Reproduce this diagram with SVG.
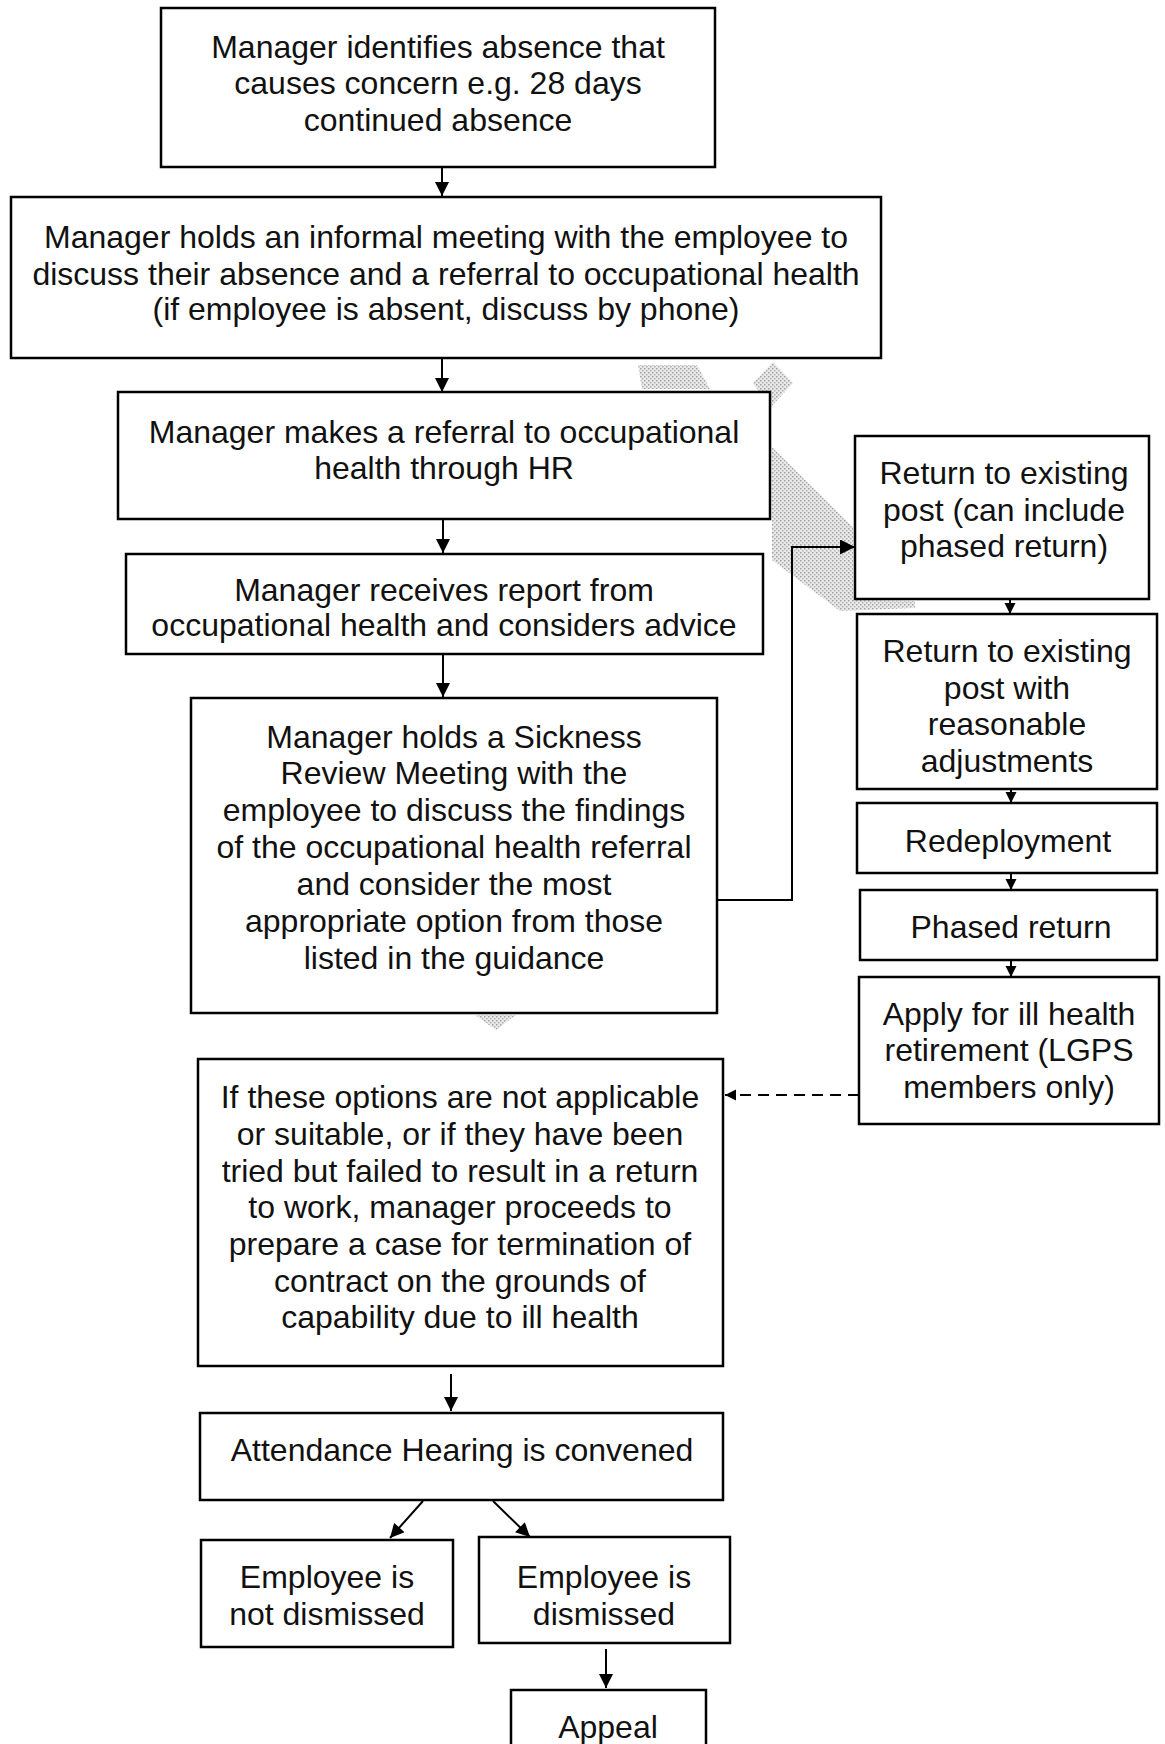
<svg xmlns="http://www.w3.org/2000/svg" width="1165" height="1744" viewBox="0 0 1165 1744">
<defs>
<style>
.box{fill:#fff;stroke:#000;stroke-width:2.5}
.t{font-family:"Liberation Sans",Arial,sans-serif;font-size:32px;fill:#111;text-anchor:middle}
.ln{stroke:#000;stroke-width:2;fill:none}
.dash{stroke:#000;stroke-width:2;fill:none;stroke-dasharray:11 7}
.art{fill:url(#stip)}
</style>
<pattern id="stip" width="4" height="4" patternUnits="userSpaceOnUse">
<rect width="4" height="4" fill="#e4e4e4"/>
<rect x="0" y="0" width="1.5" height="1.5" fill="#8a8a8a"/>
<rect x="2" y="2" width="1.5" height="1.5" fill="#a0a0a0"/>
</pattern>
<marker id="ah" viewBox="0 0 14 14" refX="14" refY="7" markerWidth="15" markerHeight="14" markerUnits="userSpaceOnUse" orient="auto">
<path d="M0,0 L14,7 L0,14 Z" fill="#000"/>
</marker>
<marker id="ahs" viewBox="0 0 12 12" refX="12" refY="6" markerWidth="11" markerHeight="12" markerUnits="userSpaceOnUse" orient="auto">
<path d="M0,0 L12,6 L0,12 Z" fill="#000"/>
</marker>
<marker id="ahb" viewBox="0 0 14 14" refX="14" refY="7" markerWidth="17" markerHeight="15" markerUnits="userSpaceOnUse" orient="auto">
<path d="M0,0 L14,7 L0,14 Z" fill="#000"/>
</marker>
</defs>
<rect width="1165" height="1744" fill="#fff"/>

<g id="artifacts" opacity="0.8">
<polygon class="art" points="638,365 697,365 710,389 642,389"/>
<polygon class="art" points="753,383 773,362 793,383 770,408"/>
<polygon class="art" points="772,447 853,527 853,600 915,601 915,608 840,611 772,560"/>
<polygon class="art" points="475,1015 516,1015 496,1030"/>
</g>

<g id="connectors">
<line class="ln" x1="442" y1="167" x2="442" y2="196" marker-end="url(#ah)"/>
<line class="ln" x1="442" y1="358" x2="442" y2="392" marker-end="url(#ah)"/>
<line class="ln" x1="443" y1="519" x2="443" y2="553" marker-end="url(#ah)"/>
<line class="ln" x1="443" y1="654" x2="443" y2="697" marker-end="url(#ah)"/>
<polyline class="ln" points="717,900 792,900 792,547 855,547" marker-end="url(#ahb)"/>
<line class="ln" x1="1010" y1="599" x2="1010" y2="614" marker-end="url(#ahs)"/>
<line class="ln" x1="1011" y1="789" x2="1011" y2="803" marker-end="url(#ahs)"/>
<line class="ln" x1="1011" y1="873" x2="1011" y2="890" marker-end="url(#ahs)"/>
<line class="ln" x1="1011" y1="960" x2="1011" y2="977" marker-end="url(#ahs)"/>
<line class="dash" x1="859" y1="1095" x2="725" y2="1095" marker-end="url(#ahs)"/>
<line class="ln" x1="451" y1="1374" x2="451" y2="1411" marker-end="url(#ah)"/>
<line class="ln" x1="423" y1="1501" x2="390" y2="1538" marker-end="url(#ah)"/>
<line class="ln" x1="493" y1="1501" x2="530" y2="1537" marker-end="url(#ah)"/>
<line class="ln" x1="606" y1="1649" x2="606" y2="1688" marker-end="url(#ah)"/>
</g>

<g id="n1">
<rect class="box" x="161" y="8" width="554" height="159"/>
<text class="t" x="438" y="58">Manager identifies absence that</text>
<text class="t" x="438" y="94">causes concern e.g. 28 days</text>
<text class="t" x="438" y="131">continued absence</text>
</g>

<g id="n2">
<rect class="box" x="11" y="197" width="870" height="161"/>
<text class="t" x="446" y="248">Manager holds an informal meeting with the employee to</text>
<text class="t" x="446" y="285">discuss their absence and a referral to occupational health</text>
<text class="t" x="446" y="320">(if employee is absent, discuss by phone)</text>
</g>

<g id="n3">
<rect class="box" x="118" y="392" width="652" height="127"/>
<text class="t" x="444" y="443">Manager makes a referral to occupational</text>
<text class="t" x="444" y="479">health through HR</text>
</g>

<g id="n4">
<rect class="box" x="126" y="554" width="637" height="100"/>
<text class="t" x="444" y="601">Manager receives report from</text>
<text class="t" x="444" y="636">occupational health and considers advice</text>
</g>

<g id="n5">
<rect class="box" x="191" y="698" width="526" height="315"/>
<text class="t" x="454" y="748">Manager holds a Sickness</text>
<text class="t" x="454" y="784">Review Meeting with the</text>
<text class="t" x="454" y="821">employee to discuss the findings</text>
<text class="t" x="454" y="858">of the occupational health referral</text>
<text class="t" x="454" y="895">and consider the most</text>
<text class="t" x="454" y="932">appropriate option from those</text>
<text class="t" x="454" y="969">listed in the guidance</text>
</g>

<g id="r1">
<rect class="box" x="855" y="436" width="294" height="163"/>
<text class="t" x="1004" y="484">Return to existing</text>
<text class="t" x="1004" y="521">post (can include</text>
<text class="t" x="1004" y="557">phased return)</text>
</g>

<g id="r2">
<rect class="box" x="857" y="614" width="300" height="175"/>
<text class="t" x="1007" y="662">Return to existing</text>
<text class="t" x="1007" y="699">post with</text>
<text class="t" x="1007" y="735">reasonable</text>
<text class="t" x="1007" y="772">adjustments</text>
</g>

<g id="r3">
<rect class="box" x="857" y="803" width="300" height="70"/>
<text class="t" x="1008" y="852">Redeployment</text>
</g>

<g id="r4">
<rect class="box" x="860" y="890" width="297" height="70"/>
<text class="t" x="1011" y="938">Phased return</text>
</g>

<g id="r5">
<rect class="box" x="859" y="977" width="300" height="147"/>
<text class="t" x="1009" y="1025">Apply for ill health</text>
<text class="t" x="1009" y="1061">retirement (LGPS</text>
<text class="t" x="1009" y="1098">members only)</text>
</g>

<g id="n6">
<rect class="box" x="198" y="1059" width="525" height="307"/>
<text class="t" x="460" y="1108">If these options are not applicable</text>
<text class="t" x="460" y="1145">or suitable, or if they have been</text>
<text class="t" x="460" y="1182">tried but failed to result in a return</text>
<text class="t" x="460" y="1218">to work, manager proceeds to</text>
<text class="t" x="460" y="1255">prepare a case for termination of</text>
<text class="t" x="460" y="1292">contract on the grounds of</text>
<text class="t" x="460" y="1328">capability due to ill health</text>
</g>

<g id="n7">
<rect class="box" x="200" y="1413" width="523" height="87"/>
<text class="t" x="462" y="1461">Attendance Hearing is convened</text>
</g>

<g id="n8">
<rect class="box" x="201" y="1540" width="252" height="107"/>
<text class="t" x="327" y="1588">Employee is</text>
<text class="t" x="327" y="1625">not dismissed</text>
</g>

<g id="n9">
<rect class="box" x="479" y="1537" width="251" height="106"/>
<text class="t" x="604" y="1588">Employee is</text>
<text class="t" x="604" y="1625">dismissed</text>
</g>

<g id="n10">
<rect class="box" x="511" y="1690" width="195" height="70"/>
<text class="t" x="608" y="1738">Appeal</text>
</g>
</svg>
